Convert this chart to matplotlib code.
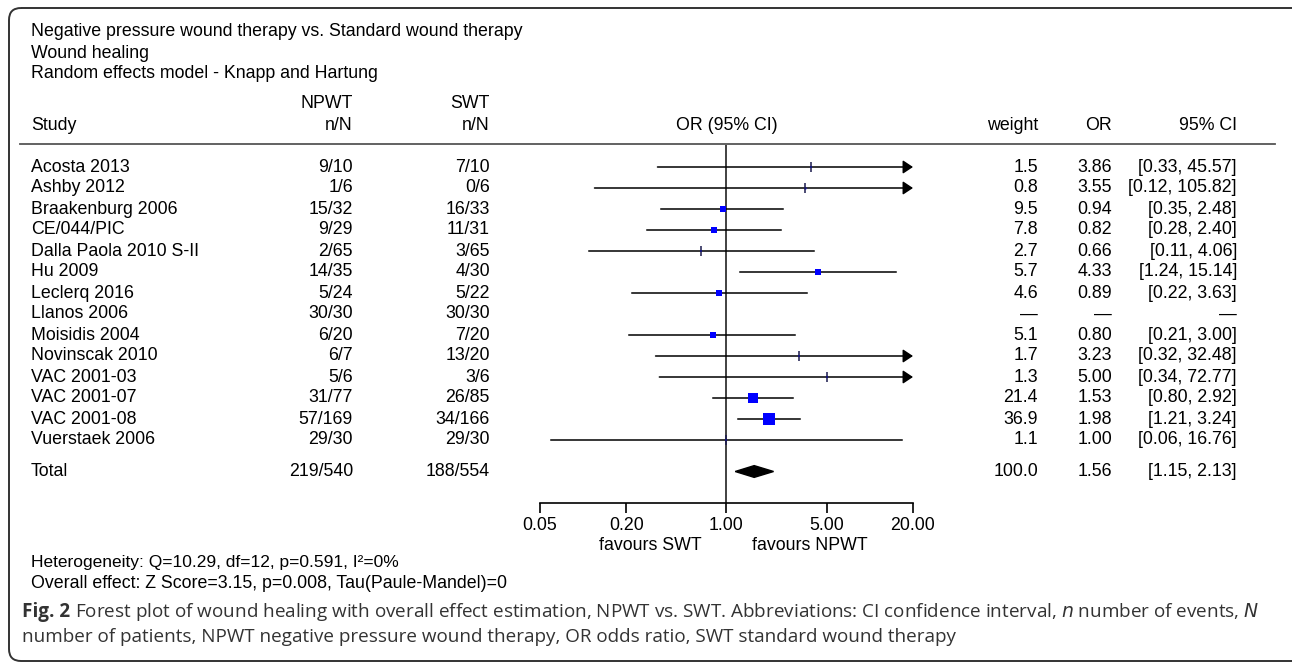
import numpy as np
import matplotlib
matplotlib.use("Agg")
import matplotlib.pyplot as plt
from matplotlib.patches import FancyBboxPatch, Polygon
from matplotlib.transforms import blended_transform_factory

# study data
studies = ['Acosta 2013', 'Ashby 2012', 'Braakenburg 2006', 'CE/044/PIC',
           'Dalla Paola 2010 S-II', 'Hu 2009', 'Leclerq 2016', 'Llanos 2006',
           'Moisidis 2004', 'Novinscak 2010', 'VAC 2001-03', 'VAC 2001-07',
           'VAC 2001-08', 'Vuerstaek 2006']
npwt = ['9/10', '1/6', '15/32', '9/29', '2/65', '14/35', '5/24', '30/30',
        '6/20', '6/7', '5/6', '31/77', '57/169', '29/30']
swt = ['7/10', '0/6', '16/33', '11/31', '3/65', '4/30', '5/22', '30/30',
       '7/20', '13/20', '3/6', '26/85', '34/166', '29/30']
weight = [1.5, 0.8, 9.5, 7.8, 2.7, 5.7, 4.6, np.nan, 5.1, 1.7, 1.3, 21.4, 36.9, 1.1]
odds = [3.86, 3.55, 0.94, 0.82, 0.66, 4.33, 0.89, np.nan, 0.80, 3.23, 5.00, 1.53, 1.98, 1.00]
ci_lo = [0.33, 0.12, 0.35, 0.28, 0.11, 1.24, 0.22, np.nan, 0.21, 0.32, 0.34, 0.80, 1.21, 0.06]
ci_hi = [45.57, 105.82, 2.48, 2.40, 4.06, 15.14, 3.63, np.nan, 3.00, 32.48, 72.77, 2.92, 3.24, 16.76]

total_npwt, total_swt = '219/540', '188/554'
total_weight, total_or, total_lo, total_hi = 100.0, 1.56, 1.15, 2.13

ticks = [0.05, 0.20, 1.00, 5.00, 20.00]

W, H = 1292, 666
fig = plt.figure(figsize=(W / 100, H / 100), dpi=100)
plt.rcParams['font.family'] = ['Liberation Sans', 'DejaVu Sans']
fs = 12.8

# background axes in pixel coordinates for the text table
bg = fig.add_axes([0, 0, 1, 1])
bg.set_xlim(0, W)
bg.set_ylim(H, 0)
bg.axis('off')

# forest axes: x 540..913 px, y 145..503 px, one unit per row
x0, x1, y0, y1 = 540, 913, 145, 503
ax = fig.add_axes([x0 / W, 1 - y1 / H, (x1 - x0) / W, (y1 - y0) / H])
row0, step = 167, 21
ax.set_ylim((y1 - row0) / step, (y0 - row0) / step)
ax.set_xscale('log')
ax.set_xlim(0.05, 20)
ax.patch.set_alpha(0)
for s in ['top', 'left', 'right']:
    ax.spines[s].set_visible(False)
ax.spines['bottom'].set_linewidth(1.2)
ax.set_xticks(ticks)
ax.set_xticklabels(['%.2f' % t for t in ticks], fontsize=fs)
ax.minorticks_off()
ax.tick_params(axis='x', length=7, width=1.2, pad=3)
ax.set_yticks([])

rows = np.arange(len(studies))
total_row = 14.5

ax.axvline(1.0, color='#333333', lw=1.3, zorder=1)

for i in rows:
    if np.isnan(odds[i]):
        continue
    lo, hi = ci_lo[i], ci_hi[i]
    if hi > 20:
        ax.annotate('', xy=(20, i), xytext=(lo, i),
                    arrowprops=dict(arrowstyle='-|>,head_length=0.6,head_width=0.4',
                                    mutation_scale=10, lw=1.1, color='black',
                                    shrinkA=0, shrinkB=0),
                    annotation_clip=False, zorder=2)
    else:
        ax.plot([lo, hi], [i, i], color='black', lw=1.1, zorder=2)
    side = (1.5 + 1.75 * np.sqrt(weight[i])) * 0.72
    if weight[i] < 3:
        side *= 0.6
    ax.plot(odds[i], i, marker='s', ms=side, color='#0000ff', mec='#0000ff',
            mew=0, zorder=3)
    if weight[i] < 3:
        ax.plot(odds[i], i, marker='|', ms=6.5, color='#1a1a4d', mew=1.1, zorder=4)

# pooled diamond
dy = 0.28
diamond = Polygon([(total_lo, total_row), (total_or, total_row - dy),
                   (total_hi, total_row), (total_or, total_row + dy)],
                  closed=True, color='black', zorder=3)
ax.add_patch(diamond)

bg.text(650, 546, 'favours SWT', ha='center', va='center', fontsize=fs)
bg.text(810, 546, 'favours NPWT', ha='center', va='center', fontsize=fs)

# table text, x in pixels, y in rows
tr = blended_transform_factory(bg.transData, ax.transData)
for i in rows:
    bg.text(31, i, studies[i], transform=tr, ha='left', va='center', fontsize=fs)
    bg.text(353, i, npwt[i], transform=tr, ha='right', va='center', fontsize=fs)
    bg.text(490, i, swt[i], transform=tr, ha='right', va='center', fontsize=fs)
    if np.isnan(odds[i]):
        for xr in (1038, 1112, 1237):
            bg.text(xr, i, '\u2014', transform=tr, ha='right', va='center', fontsize=fs)
    else:
        bg.text(1038, i, '%.1f' % weight[i], transform=tr, ha='right', va='center', fontsize=fs)
        bg.text(1112, i, '%.2f' % odds[i], transform=tr, ha='right', va='center', fontsize=fs)
        bg.text(1237, i, '[%.2f, %.2f]' % (ci_lo[i], ci_hi[i]), transform=tr,
                ha='right', va='center', fontsize=fs)

bg.text(31, total_row, 'Total', transform=tr, ha='left', va='center', fontsize=fs)
bg.text(353, total_row, total_npwt, transform=tr, ha='right', va='center', fontsize=fs)
bg.text(490, total_row, total_swt, transform=tr, ha='right', va='center', fontsize=fs)
bg.text(1038, total_row, '%.1f' % total_weight, transform=tr, ha='right', va='center', fontsize=fs)
bg.text(1112, total_row, '%.2f' % total_or, transform=tr, ha='right', va='center', fontsize=fs)
bg.text(1237, total_row, '[%.2f, %.2f]' % (total_lo, total_hi), transform=tr,
        ha='right', va='center', fontsize=fs)

# header
bg.text(31, 32, 'Negative pressure wound therapy vs. Standard wound therapy', va='center', fontsize=fs)
bg.text(31, 53, 'Wound healing', va='center', fontsize=fs)
bg.text(31, 74, 'Random effects model - Knapp and Hartung', va='center', fontsize=fs)
bg.text(353, 104, 'NPWT', ha='right', va='center', fontsize=fs)
bg.text(490, 104, 'SWT', ha='right', va='center', fontsize=fs)
bg.text(31, 126, 'Study', va='center', fontsize=fs)
bg.text(353, 126, 'n/N', ha='right', va='center', fontsize=fs)
bg.text(490, 126, 'n/N', ha='right', va='center', fontsize=fs)
bg.text(727, 126, 'OR (95% CI)', ha='center', va='center', fontsize=fs)
bg.text(1038, 126, 'weight', ha='right', va='center', fontsize=fs)
bg.text(1112, 126, 'OR', ha='right', va='center', fontsize=fs)
bg.text(1237, 126, '95% CI', ha='right', va='center', fontsize=fs)
bg.plot([20, 1275], [144, 144], color='#555555', lw=1.3)

# footer
bg.text(31, 562, 'Heterogeneity: Q=10.29, df=12, p=0.591, I\u00b2=0%', va='center', fontsize=12.5)
bg.text(31, 583, 'Overall effect: Z Score=3.15, p=0.008, Tau(Paule-Mandel)=0', va='center', fontsize=12.8)

# caption
cap_kw = dict(va='center', fontsize=13.6, color='#333333', family=['Open Sans', 'DejaVu Sans'])
t = bg.text(22, 612, 'Fig. 2', fontweight='bold', **cap_kw)
fig.canvas.draw()
bb = t.get_window_extent()
xend = bb.x1 + 5
bg.text(xend, 612, 'Forest plot of wound healing with overall effect estimation, NPWT vs. SWT. '
        'Abbreviations: CI confidence interval, $\\it{n}$ number of events, $\\it{N}$', **cap_kw)
bg.text(22, 637, 'number of patients, NPWT negative pressure wound therapy, OR odds ratio, '
        'SWT standard wound therapy', **cap_kw)

# rounded frame, right edge runs off the image
frame = FancyBboxPatch((9, 8), 1296, 653, boxstyle='round,pad=0,rounding_size=12',
                       fill=False, ec='#333333', lw=1.4)
bg.add_patch(frame)

fig.savefig('out.png', dpi=100)
